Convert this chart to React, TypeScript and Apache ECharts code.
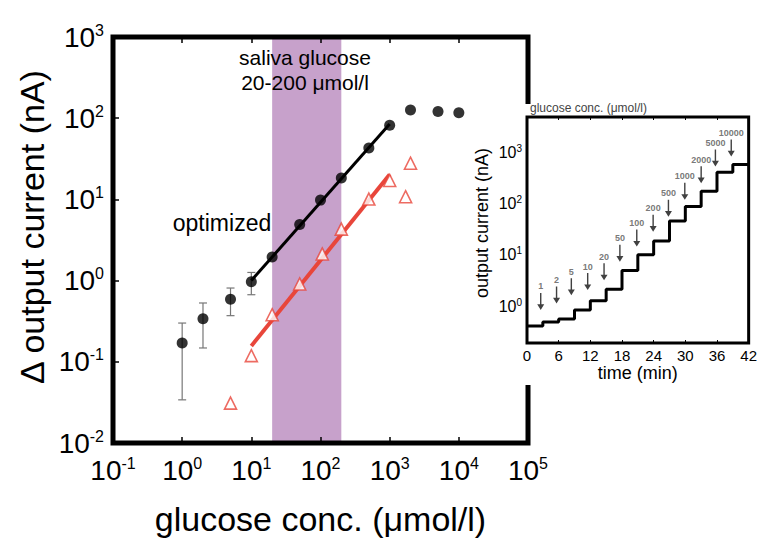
import React, { useEffect, useRef } from 'react';
import * as echarts from 'echarts';

const FONT = '"Liberation Sans", Arial, sans-serif';

// main chart: optimized sensor (black circles) and red triangles
const concBlack = [1, 2, 5, 10, 20, 50, 100, 200, 500, 1000, 2000, 5000, 10000];
const currBlack = [0.17, 0.34, 0.59, 0.97, 1.95, 4.9, 9.8, 18.4, 43, 82, 126, 121, 117];
const errConc = [1, 2, 5, 10];
const errLow = [0.034, 0.148, 0.37, 0.67];
const errHigh = [0.3, 0.53, 0.81, 1.26];
const concRed = [5, 10, 20, 50, 106, 200, 500, 1000, 1700, 2000];
const currRed = [0.031, 0.119, 0.38, 0.91, 2.13, 4.3, 10.1, 17.1, 10.8, 27.9];
const fitBlackConc = [10, 1000];
const fitBlackCurr = [1.0, 85];
const fitRedConc = [10, 1000];
const fitRedCurr = [0.157, 20.2];
const salivaRange = [20, 200];

// inset: stepwise output current over time
const stepTimes = [0, 3, 6, 9, 12, 15, 18, 21, 24, 27, 30, 33, 36, 39, 42];
const stepLevels = [0.41, 0.49, 0.56, 0.84, 1.27, 2.15, 5.0, 10.1, 18.8, 46, 89, 177, 417, 590, 590];
const arrowTimes = [2.6, 5.6, 8.4, 11.5, 14.6, 17.6, 20.8, 23.9, 26.8, 29.9, 33, 35.7, 38.7];
const arrowTips = [0.84, 1.13, 1.64, 2.06, 3.2, 7.4, 14.6, 28.6, 56, 120, 254, 540, 847];
const arrowLabels = ['1', '2', '5', '10', '20', '50', '100', '200', '500', '1000', '2000', '5000', '10000'];

const RED = '#e8463b';

function powLabel(v: number) {
  const l = Math.log10(v);
  const e = Math.round(l);
  if (Math.abs(l - e) > 1e-6) return '';
  return `{b|10}{s|${e}}`;
}

export default function App() {
  const ref = useRef<HTMLDivElement>(null);
  useEffect(() => {
    if (!ref.current) return;
    const chart = echarts.init(ref.current, null, { renderer: 'svg' });
    const bigRich = {
      b: { fontSize: 28, fontFamily: FONT, color: '#000', lineHeight: 30 },
      s: { fontSize: 16, fontFamily: FONT, color: '#000', lineHeight: 16, verticalAlign: 'top' },
    };
    const smallRich = {
      b: { fontSize: 16, fontFamily: FONT, color: '#000', lineHeight: 18 },
      s: { fontSize: 10, fontFamily: FONT, color: '#000', lineHeight: 10, verticalAlign: 'top' },
    };
    const option: any = {
      animation: false,
      backgroundColor: '#fff',
      textStyle: { fontFamily: FONT },
      grid: [
        { left: 113, top: 37, width: 415, height: 415, show: true, borderColor: '#000', borderWidth: 5, backgroundColor: 'transparent', z: 3 },
        { left: 527, top: 117, width: 226, height: 226, show: true, borderColor: '#000', borderWidth: 3, backgroundColor: 'transparent', z: 11 },
      ],
      xAxis: [
        {
          gridIndex: 0, type: 'log', logBase: 10, min: 0.1, max: 100000, position: 'bottom', z: 4,
          axisLine: { show: false },
          axisTick: { show: true, inside: true, length: 6, lineStyle: { color: '#000', width: 1.5 } },
          splitLine: { show: false }, minorTick: { show: false },
          axisLabel: { formatter: powLabel, rich: bigRich, margin: 12 },
          name: 'glucose conc. (μmol/l)', nameLocation: 'middle', nameGap: 59,
          nameTextStyle: { fontSize: 34, fontFamily: FONT, color: '#000' },
        },
        {
          gridIndex: 0, type: 'log', logBase: 10, min: 0.1, max: 100000, position: 'top', z: 4,
          axisLine: { show: false },
          axisTick: { show: true, inside: true, length: 6, lineStyle: { color: '#000', width: 1.5 } },
          splitLine: { show: false }, axisLabel: { show: false },
        },
        {
          gridIndex: 1, type: 'value', min: 0, max: 42, interval: 6, position: 'bottom', z: 11,
          axisLine: { show: false },
          axisTick: { show: true, inside: true, length: 3, lineStyle: { color: '#000', width: 1 } },
          splitLine: { show: false },
          axisLabel: { fontSize: 15, color: '#000', fontFamily: FONT, margin: 5 },
          name: 'time (min)', nameLocation: 'middle', nameGap: 20,
          nameTextStyle: { fontSize: 18, fontFamily: FONT, color: '#000' },
        },
        {
          gridIndex: 1, type: 'value', min: 0, max: 42, interval: 6, position: 'top', z: 11,
          axisLine: { show: false },
          axisTick: { show: true, inside: true, length: 3, lineStyle: { color: '#000', width: 1 } },
          splitLine: { show: false }, axisLabel: { show: false },
        },
      ],
      yAxis: [
        {
          gridIndex: 0, type: 'log', logBase: 10, min: 0.01, max: 1000, position: 'left', z: 4,
          axisLine: { show: false },
          axisTick: { show: true, inside: true, length: 6, lineStyle: { color: '#000', width: 1.5 } },
          splitLine: { show: false }, minorTick: { show: false },
          axisLabel: { formatter: powLabel, rich: bigRich, margin: 9 },
        },
        {
          gridIndex: 1, type: 'log', logBase: 10, min: 0.19, max: 5000, position: 'left', z: 11,
          axisLine: { show: false },
          axisTick: { show: false },
          splitLine: { show: false }, minorTick: { show: false },
          axisLabel: { formatter: powLabel, rich: smallRich, margin: 5, showMinLabel: false, showMaxLabel: false },
        },
      ],
      graphic: [
        { type: 'rect', shape: { x: 490, y: 104, width: 270, height: 281 }, style: { fill: '#fff' }, z: 10 },
        {
          type: 'text', x: 305, y: 57, z: 12,
          style: { text: 'saliva glucose', fontSize: 21, fontFamily: FONT, fill: '#000', align: 'center', verticalAlign: 'middle', textAlign: 'center', textVerticalAlign: 'middle' },
        },
        {
          type: 'text', x: 305, y: 82, z: 12,
          style: { text: '20-200 μmol/l', fontSize: 21, fontFamily: FONT, fill: '#000', align: 'center', verticalAlign: 'middle', textAlign: 'center', textVerticalAlign: 'middle' },
        },
        {
          type: 'text', x: 222, y: 223, z: 12,
          style: { text: 'optimized', fontSize: 23, fontFamily: FONT, fill: '#000', align: 'center', verticalAlign: 'middle', textAlign: 'center', textVerticalAlign: 'middle' },
        },
        {
          type: 'text', x: 32, y: 227, rotation: Math.PI / 2, z: 12,
          style: { text: 'Δ output current (nA)', fontSize: 34, fontFamily: FONT, fill: '#000', align: 'center', verticalAlign: 'middle', textAlign: 'center', textVerticalAlign: 'middle' },
        },
        {
          type: 'text', x: 482, y: 223, rotation: Math.PI / 2, z: 12,
          style: { text: 'output current (nA)', fontSize: 18, fontFamily: FONT, fill: '#000', align: 'center', verticalAlign: 'middle', textAlign: 'center', textVerticalAlign: 'middle' },
        },
        {
          type: 'text', x: 530, y: 108, z: 12,
          style: { text: 'glucose conc. (μmol/l)', fontSize: 12, fontFamily: FONT, fill: '#444', align: 'left', verticalAlign: 'middle', textAlign: 'left', textVerticalAlign: 'middle' },
        },
      ],
      series: [
        {
          type: 'custom', xAxisIndex: 0, yAxisIndex: 0, z: 1, silent: true,
          data: [[salivaRange[0], salivaRange[1], 1]],
          encode: { x: [0, 1], y: 2 },
          renderItem: (params: any, api: any) => {
            const cs = params.coordSys;
            const xa = api.coord([api.value(0), 1])[0];
            const xb = api.coord([api.value(1), 1])[0];
            return { type: 'rect', shape: { x: xa, y: cs.y, width: xb - xa, height: cs.height }, style: { fill: '#c7a1cb' } };
          },
        },
        {
          type: 'custom', xAxisIndex: 0, yAxisIndex: 0, z: 3, silent: true,
          data: errConc.map((c, i) => [c, errLow[i], errHigh[i]]),
          encode: { x: 0, y: [1, 2] },
          renderItem: (params: any, api: any) => {
            const x = api.value(0);
            const lo = api.coord([x, api.value(1)]);
            const hi = api.coord([x, api.value(2)]);
            const cap = 4;
            const st = { stroke: '#777', lineWidth: 1.2 };
            return {
              type: 'group',
              children: [
                { type: 'line', shape: { x1: lo[0], y1: lo[1], x2: hi[0], y2: hi[1] }, style: st },
                { type: 'line', shape: { x1: lo[0] - cap, y1: lo[1], x2: lo[0] + cap, y2: lo[1] }, style: st },
                { type: 'line', shape: { x1: hi[0] - cap, y1: hi[1], x2: hi[0] + cap, y2: hi[1] }, style: st },
              ],
            };
          },
        },
        {
          type: 'line', xAxisIndex: 0, yAxisIndex: 0, z: 4, showSymbol: false, silent: true,
          data: fitBlackConc.map((c, i) => [c, fitBlackCurr[i]]),
          lineStyle: { color: '#000', width: 3 },
        },
        {
          type: 'line', xAxisIndex: 0, yAxisIndex: 0, z: 4, showSymbol: false, silent: true,
          data: fitRedConc.map((c, i) => [c, fitRedCurr[i]]),
          lineStyle: { color: RED, width: 4 },
        },
        {
          type: 'scatter', xAxisIndex: 0, yAxisIndex: 0, z: 5,
          data: concBlack.map((c, i) => [c, currBlack[i]]),
          symbol: 'circle', symbolSize: 11,
          itemStyle: { color: '#000' },
        },
        {
          type: 'scatter', xAxisIndex: 0, yAxisIndex: 0, z: 6,
          data: concRed.map((c, i) => [c, currRed[i]]),
          symbol: 'triangle', symbolSize: 12,
          itemStyle: { color: '#fff', borderColor: RED, borderWidth: 1.6 },
        },
        {
          type: 'line', xAxisIndex: 2, yAxisIndex: 1, z: 12, step: 'end', showSymbol: false, silent: true,
          data: stepTimes.map((t, i) => [t, stepLevels[i]]),
          lineStyle: { color: '#000', width: 3 },
        },
        {
          type: 'scatter', xAxisIndex: 2, yAxisIndex: 1, z: 12, silent: true,
          data: arrowTimes.map((t, i) => ({ value: [t, arrowTips[i]], name: arrowLabels[i] })),
          symbol: 'path://M4,0 L6,0 L6,24 L10,24 L5,36 L0,24 L4,24 Z',
          symbolSize: [7, 17], symbolOffset: [0, '-50%'],
          itemStyle: { color: '#111' },
          label: { show: true, position: 'top', distance: 2, formatter: '{b}', fontSize: 9, fontWeight: 'bold', color: '#555', fontFamily: FONT },
        },
      ],
    };
    chart.setOption(option);
    return () => chart.dispose();
  }, []);
  return <div ref={ref} style={{ position: 'fixed', left: 0, top: 0, width: 760, height: 541 }} />;
}
